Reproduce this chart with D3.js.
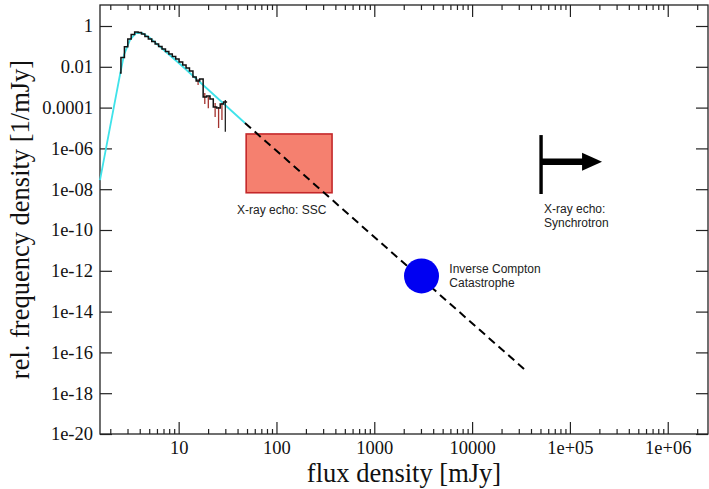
<!DOCTYPE html>
<html>
<head>
<meta charset="utf-8">
<script src="https://cdn.jsdelivr.net/npm/d3@7"></script>
<style>
  html, body { margin: 0; padding: 0; background: #fff; }
  svg { display: block; }
  .tick text { font-family: 'Liberation Serif', 'Times New Roman', serif; font-size: 18.5px; fill: #111; }
  .tick line { stroke: #222; stroke-width: 1.2; }
  .note { font-family: 'Liberation Sans', Arial, sans-serif; font-size: 12px; fill: #222; }
  .title { font-family: 'Liberation Serif', 'Times New Roman', serif; font-size: 26.5px; fill: #111; }
</style>
</head>
<body>
<div id="chart"></div>
<script>
const SIZE = Object.freeze({ WIDTH: 709, HEIGHT: 489 }),
      MARGIN = Object.freeze({ TOP: 5, RIGHT: 1, BOTTOM: 55, LEFT: 100 })

// axes
const xDomain = [1.57, 2.58e6],
      yDomain = [1e-20, 10.7]
const xMajorTicks = [10, 100, 1000, 10000, 1e5, 1e6],
      xTickLabels = ['10', '100', '1000', '10000', '1e+05', '1e+06']
const yMajorTicks = [1, 1e-2, 1e-4, 1e-6, 1e-8, 1e-10, 1e-12, 1e-14, 1e-16, 1e-18, 1e-20],
      yTickLabels = ['1', '0.01', '0.0001', '1e-06', '1e-08', '1e-10', '1e-12', '1e-14', '1e-16', '1e-18', '1e-20']

// observed histogram (bin edges in mJy, density in 1/mJy)
const histEdges = [2.51, 2.57, 2.79, 3.02, 3.27, 3.55, 3.85, 4.17, 4.52, 4.90, 5.31, 5.75,
  6.24, 6.76, 7.33, 7.94, 8.61, 9.33, 10.1, 11.0, 11.9, 12.9, 14.0, 15.1, 16.4, 17.8,
  19.3, 20.9, 22.6, 24.5, 26.6, 28.8, 31.3]
const histDensity = [0.005, 0.0286, 0.0966, 0.231, 0.383, 0.508, 0.48, 0.405, 0.306, 0.231,
  0.174, 0.131, 0.0989, 0.0746, 0.0562, 0.0424, 0.032, 0.0241, 0.0172, 0.01226, 0.00873,
  0.00622, 0.00316, 0.00201, 0.00252, 3.31e-4, 3.7e-4, 2.64e-4, 1.07e-4, 9.55e-5, 1.5e-4, 1.88e-4]

// error bars on the noisy tail
const errFlux = [15.8, 18.5, 20.1, 23.6, 25.6, 27.7, 30.0],
      errLow = [1.28e-3, 1.5e-4, 9.2e-5, 3.46e-5, 1.0e-5, 2.47e-5, 6.6e-6],
      errHigh = [2.52e-3, 5.2e-4, 3.42e-4, 1.68e-4, 1.07e-4, 1.68e-4, 2.36e-4]

// model fit (cyan) and its extrapolation (dashed)
const modelFlux = [1.57, 2.51, 2.76, 3.18, 3.66, 4.22, 5.09, 10.3, 47.6],
      modelDensity = [2.8e-8, 3.96e-3, 0.038, 0.206, 0.454, 0.454, 0.258, 0.0137, 1.76e-5]
const extrapFlux = [47.6, 33960],
      extrapDensity = [1.76e-5, 1.54e-17]

// annotations
const sscBox = { flux: [49, 370], density: [6.7e-9, 5.1e-6] }
const icPoint = { flux: 3040, density: 5.6e-13 }
const syncArrow = { flux: 5.07e4, tipFlux: 2.13e5, headFlux: 1.33e5, density: [5.8e-9, 4.5e-6], shaft: 2.2e-7 }
const notes = [
  { lines: ['X-ray echo: SSC'], flux: 39.5, density: 6e-10 },
  { lines: ['Inverse Compton', 'Catastrophe'], flux: 5850, density: 7.5e-13 },
  { lines: ['X-ray echo:', 'Synchrotron'], flux: 54300, density: 6.8e-10 }
]

const buildChart = () => {
  const svg = d3.select('#chart')
    .append('svg')
    .attr('width', SIZE.WIDTH)
    .attr('height', SIZE.HEIGHT)

  const xScale = d3.scaleLog()
          .domain(xDomain)
          .range([MARGIN.LEFT, SIZE.WIDTH - MARGIN.RIGHT]),
        yScale = d3.scaleLog()
          .domain(yDomain)
          .range([SIZE.HEIGHT - MARGIN.BOTTOM, MARGIN.TOP])

  const xMinor = []
  for (let k = 0; k <= 6; k++) {
    for (let m = 2; m <= 9; m++) {
      const v = m * Math.pow(10, k)
      if (v >= xDomain[0] && v <= xDomain[1]) xMinor.push(v)
    }
  }

  const bottom = SIZE.HEIGHT - MARGIN.BOTTOM,
        right = SIZE.WIDTH - MARGIN.RIGHT

  // minor ticks
  svg.append('g')
    .attr('transform', `translate(0, ${bottom})`)
    .call(d3.axisBottom(xScale).tickValues(xMinor).tickSize(-5).tickFormat(''))
  svg.append('g')
    .attr('transform', `translate(0, ${MARGIN.TOP})`)
    .call(d3.axisTop(xScale).tickValues(xMinor).tickSize(-5).tickFormat(''))

  // major ticks
  svg.append('g')
    .attr('transform', `translate(0, ${bottom})`)
    .call(d3.axisBottom(xScale).tickValues(xMajorTicks).tickSize(-12).tickPadding(7)
      .tickFormat((d, i) => xTickLabels[i]))
  svg.append('g')
    .attr('transform', `translate(0, ${MARGIN.TOP})`)
    .call(d3.axisTop(xScale).tickValues(xMajorTicks).tickSize(-12).tickFormat(''))
  svg.append('g')
    .attr('transform', `translate(${MARGIN.LEFT}, 0)`)
    .call(d3.axisLeft(yScale).tickValues(yMajorTicks).tickSize(-12).tickPadding(7)
      .tickFormat((d, i) => yTickLabels[i]))
  svg.append('g')
    .attr('transform', `translate(${right}, 0)`)
    .call(d3.axisRight(yScale).tickValues(yMajorTicks).tickSize(-12).tickFormat(''))

  svg.selectAll('.domain').remove()

  // frame
  svg.append('rect')
    .attr('x', MARGIN.LEFT)
    .attr('y', MARGIN.TOP)
    .attr('width', right - MARGIN.LEFT)
    .attr('height', bottom - MARGIN.TOP)
    .attr('fill', 'none')
    .attr('stroke', '#222')
    .attr('stroke-width', 1.3)

  // SSC box
  svg.append('rect')
    .attr('x', xScale(sscBox.flux[0]))
    .attr('y', yScale(sscBox.density[1]))
    .attr('width', xScale(sscBox.flux[1]) - xScale(sscBox.flux[0]))
    .attr('height', yScale(sscBox.density[0]) - yScale(sscBox.density[1]))
    .attr('fill', '#f5806f')
    .attr('stroke', '#c4282a')
    .attr('stroke-width', 1.6)

  const line = d3.line()
    .x(d => xScale(d[0]))
    .y(d => yScale(d[1]))

  // model
  svg.append('path')
    .datum(modelFlux.map((f, i) => [f, modelDensity[i]]))
    .attr('d', line)
    .attr('fill', 'none')
    .attr('stroke', '#3fe3ea')
    .attr('stroke-width', 1.8)

  svg.append('path')
    .datum(extrapFlux.map((f, i) => [f, extrapDensity[i]]))
    .attr('d', line)
    .attr('fill', 'none')
    .attr('stroke', '#000')
    .attr('stroke-width', 2)
    .attr('stroke-dasharray', '8,5')

  // error bars
  svg.selectAll('line.err')
    .data(errFlux)
    .enter()
    .append('line')
    .attr('class', 'err')
    .attr('x1', d => xScale(d))
    .attr('x2', d => xScale(d))
    .attr('y1', (d, i) => yScale(errLow[i]))
    .attr('y2', (d, i) => yScale(errHigh[i]))
    .attr('stroke', (d, i) => i === errFlux.length - 1 ? '#222' : '#a3322e')
    .attr('stroke-width', 1.3)

  // histogram
  const histPoints = histDensity.map((v, i) => [histEdges[i], v])
  histPoints.push([histEdges[histEdges.length - 1], histDensity[histDensity.length - 1]])
  svg.append('path')
    .datum(histPoints)
    .attr('d', line.curve(d3.curveStepAfter))
    .attr('fill', 'none')
    .attr('stroke', '#111')
    .attr('stroke-width', 1.5)

  // inverse Compton point
  svg.append('circle')
    .attr('cx', xScale(icPoint.flux))
    .attr('cy', yScale(icPoint.density))
    .attr('r', 17.5)
    .attr('fill', '#0000f2')

  // synchrotron limit arrow
  const ax = xScale(syncArrow.flux),
        sy = yScale(syncArrow.shaft),
        hx = xScale(syncArrow.headFlux),
        tx = xScale(syncArrow.tipFlux)
  svg.append('line')
    .attr('x1', ax).attr('x2', ax)
    .attr('y1', yScale(syncArrow.density[0]))
    .attr('y2', yScale(syncArrow.density[1]))
    .attr('stroke', '#000')
    .attr('stroke-width', 3.4)
  svg.append('line')
    .attr('x1', ax).attr('x2', hx + 1)
    .attr('y1', sy).attr('y2', sy)
    .attr('stroke', '#000')
    .attr('stroke-width', 6.5)
  svg.append('path')
    .attr('d', `M${hx},${sy - 9}L${tx},${sy}L${hx},${sy + 9}Z`)
    .attr('fill', '#000')

  // notes
  notes.forEach(n => {
    const t = svg.append('text')
      .attr('class', 'note')
      .attr('x', xScale(n.flux))
      .attr('y', yScale(n.density))
    n.lines.forEach((l, i) => {
      t.append('tspan')
        .attr('x', xScale(n.flux))
        .attr('dy', i === 0 ? 0 : 14)
        .text(l)
    })
  })

  // axis titles
  svg.append('text')
    .attr('class', 'title')
    .attr('text-anchor', 'middle')
    .attr('x', (MARGIN.LEFT + right) / 2)
    .attr('y', 482)
    .text('flux density [mJy]')
  svg.append('text')
    .attr('class', 'title')
    .attr('text-anchor', 'middle')
    .attr('transform', `translate(29, ${(MARGIN.TOP + bottom) / 2}) rotate(-90)`)
    .text('rel. frequency density [1/mJy]')
}

buildChart()
</script>
</body>
</html>
